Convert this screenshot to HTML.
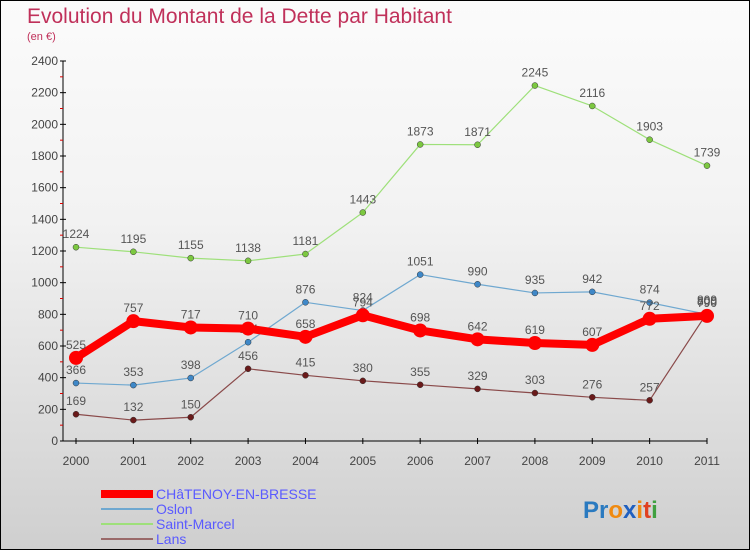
<!DOCTYPE html>
<html><head><meta charset="utf-8"><style>
body{margin:0}
#c{width:750px;height:550px;position:relative;box-sizing:border-box;border:1px solid #000;background:linear-gradient(#fbfbfb,#f2f2f2 40%,#cfcfcf);font-family:"Liberation Sans",sans-serif;overflow:hidden}
svg text{font-family:"Liberation Sans",sans-serif}
</style></head><body>
<div id="c">
<svg id="s" width="750" height="550">
<text x="26" y="22" font-size="21" fill="#c0305a" font-weight="300">Evolution du Montant de la Dette par Habitant</text>
<text x="26" y="39" font-size="11" fill="#c0305a">(en €)</text>
<g id="ax"></g><g id="ser"></g>
<g>
<rect x="100" y="489" width="52" height="8" fill="#f00"/>
<text x="155" y="498" font-size="14" fill="#5a5aff" font-weight="normal">CHâTENOY-EN-BRESSE</text>
<line x1="100" y1="508" x2="152" y2="508" stroke="#6fa8d0" stroke-width="2"/>
<text x="155" y="513" font-size="14" fill="#5a5aff">Oslon</text>
<line x1="100" y1="523" x2="152" y2="523" stroke="#9ee07a" stroke-width="2"/>
<text x="155" y="528" font-size="14" fill="#5a5aff">Saint-Marcel</text>
<line x1="100" y1="538" x2="152" y2="538" stroke="#9a6a6a" stroke-width="2"/>
<text x="155" y="543" font-size="14" fill="#5a5aff">Lans</text>
</g>
<text x="582" y="517" font-size="24" font-weight="bold"><tspan fill="#2a7ac0">Pr</tspan><tspan fill="#f08a10">o</tspan><tspan fill="#2060c0">x</tspan><tspan fill="#f08a10">i</tspan><tspan fill="#e04020">t</tspan><tspan fill="#40a040">i</tspan></text>
</svg>
</div>
<script>
const years=[2000,2001,2002,2003,2004,2005,2006,2007,2008,2009,2010,2011];
const yTicks=[0,200,400,600,800,1000,1200,1400,1600,1800,2000,2200,2400];
const chatenoy=[525,757,717,710,658,794,698,642,619,607,772,790];
const oslon=[366,353,398,624,876,824,1051,990,935,942,874,800];
const saintMarcel=[1224,1195,1155,1138,1181,1443,1873,1871,2245,2116,1903,1739];
const lans=[169,132,150,456,415,380,355,329,303,276,257,809];
const NS='http://www.w3.org/2000/svg';
const X=i=>75+i*(706-75)/11;
const Y=v=>440-v*(380/2400);
function mk(t,a,p){const e=document.createElementNS(NS,t);for(const k in a)e.setAttribute(k,a[k]);p.appendChild(e);return e;}
const ax=document.getElementById('ax');
let l=mk('line',{x1:62,y1:60,x2:62,y2:440,stroke:'#000'},ax);


l=mk('line',{x1:62,y1:440,x2:706,y2:440,stroke:'#000'},ax);


yTicks.forEach((v,i)=>{
  mk('line',{x1:59,x2:65,y1:Y(v),y2:Y(v),stroke:'#000'},ax);
  if(i<yTicks.length-1) mk('line',{x1:59,x2:62,y1:Y(v+100),y2:Y(v+100),stroke:'#d00'},ax);
  const t=mk('text',{x:57,y:Y(v)+4,'font-size':12,fill:'#444','text-anchor':'end'},ax);t.textContent=v;
  
  
});
years.forEach((y,i)=>{
  mk('line',{x1:X(i),x2:X(i),y1:437,y2:443,stroke:'#000'},ax);
  const t=mk('text',{x:X(i),y:464,'font-size':12,fill:'#444','text-anchor':'middle'},ax);t.textContent=y;
  
  
});
const ser=document.getElementById('ser');
function draw(vals,col,dot,w,r,name){
  const g=mk('g',{},ser);
  
  
  const p=mk('polyline',{points:vals.map((v,i)=>X(i)+','+Y(v)).join(' '),fill:'none',stroke:col,'stroke-width':w,'stroke-linejoin':'round'},g);
  
  
  vals.forEach((v,i)=>{
    const c=mk('circle',{cx:X(i),cy:Y(v),r:r,fill:dot,stroke:'#333','stroke-width':w>3?0:0.5},g);
    
    
    const t=mk('text',{x:X(i),y:Y(v)-9,'font-size':12,fill:'#555','text-anchor':'middle'},g);t.textContent=v;
    
    
  });
}
draw(saintMarcel,'#9ee07a','#7cc840',1.2,3,'saint-marcel');
draw(oslon,'#6fa8d0','#3f88c8',1.2,3,'oslon');
draw(lans,'#8a4a4a','#6a1a1a',1.2,3,'lans');
draw(chatenoy,'#f00','#f00',8,7,'chatenoy');
</script>
</body></html>
